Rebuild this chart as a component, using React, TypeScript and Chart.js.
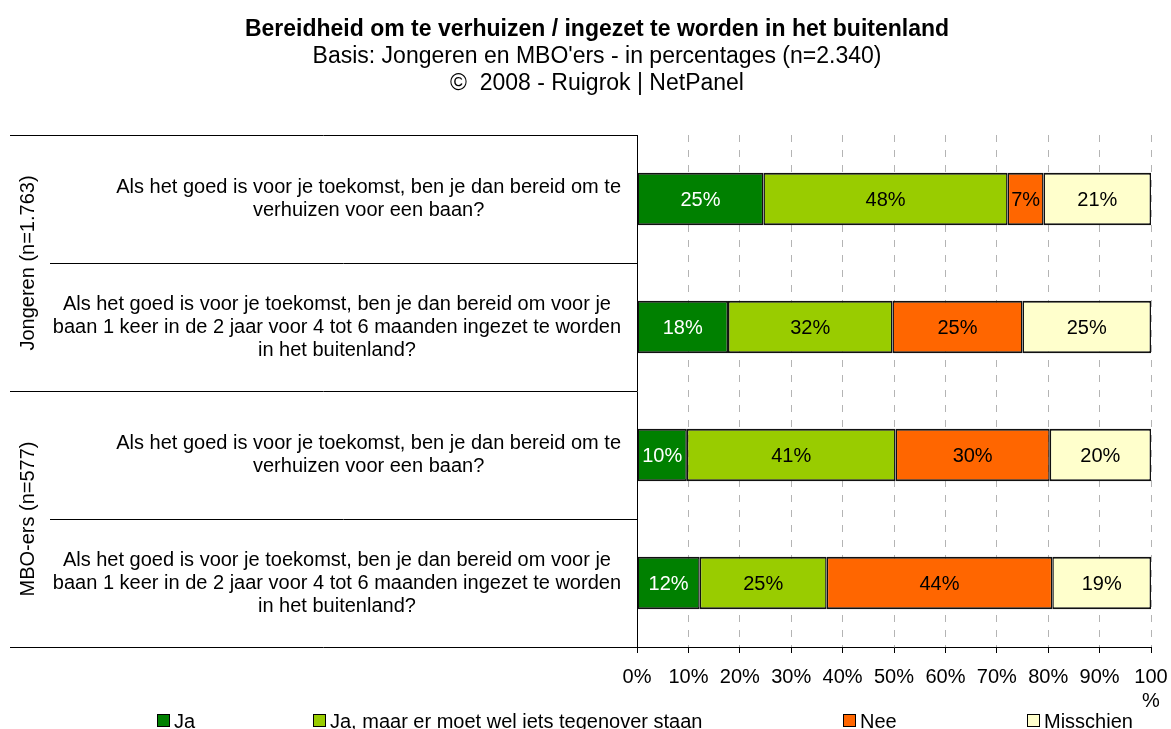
import React, { useEffect, useRef } from "react";
import { Chart, registerables } from "chart.js";

Chart.register(...registerables);

const FONT = "'Liberation Sans', Arial, Helvetica, sans-serif";

const titleText = "Bereidheid om te verhuizen / ingezet te worden in het buitenland";
const subtitleLines = [
  "Basis: Jongeren en MBO'ers - in percentages (n=2.340)",
  "©  2008 - Ruigrok | NetPanel",
];

const categories: string[][] = [
  ["Als het goed is voor je toekomst, ben je dan bereid om te", "verhuizen voor een baan?"],
  [
    "Als het goed is voor je toekomst, ben je dan bereid om voor je",
    "baan 1 keer in de 2 jaar voor 4 tot 6 maanden ingezet te worden",
    "in het buitenland?",
  ],
  ["Als het goed is voor je toekomst, ben je dan bereid om te", "verhuizen voor een baan?"],
  [
    "Als het goed is voor je toekomst, ben je dan bereid om voor je",
    "baan 1 keer in de 2 jaar voor 4 tot 6 maanden ingezet te worden",
    "in het buitenland?",
  ],
];
const groups = ["Jongeren (n=1.763)", "MBO-ers (n=577)"];
const groupOf = [0, 0, 1, 1];

const seriesNames = ["Ja", "Ja, maar er moet wel iets tegenover staan", "Nee", "Misschien"];
const ja = [24.6, 17.7, 9.7, 12.2];
const jaMaar = [47.5, 32.0, 40.6, 24.7];
const nee = [7.0, 25.3, 30.0, 43.9];
const misschien = [20.9, 25.0, 19.7, 19.2];

const xTicks = [0, 10, 20, 30, 40, 50, 60, 70, 80, 90, 100];

const colors = ["#008000", "#99CC00", "#FF6600", "#FFFFCC"];
const labelColors = ["#FFFFFF", "#000000", "#000000", "#000000"];
const legendX = [157, 313, 843, 1027];

const overlay = {
  id: "overlay",
  afterDatasetsDraw(chart: any) {
    const { ctx } = chart;
    ctx.save();
    ctx.font = `20px ${FONT}`;
    ctx.textAlign = "center";
    ctx.textBaseline = "middle";
    chart.data.datasets.forEach((ds: any, di: number) => {
      const meta = chart.getDatasetMeta(di);
      meta.data.forEach((el: any, i: number) => {
        const v = ds.data[i];
        ctx.fillStyle = labelColors[di];
        ctx.fillText(Math.round(v) + "%", (el.x + el.base) / 2, el.y + 1);
      });
    });
    ctx.restore();
  },
  afterDraw(chart: any) {
    const { ctx, chartArea, scales } = chart;
    const y = scales.y;
    ctx.save();
    ctx.fillStyle = "#000";
    ctx.textAlign = "center";
    ctx.textBaseline = "middle";
    // titles
    ctx.font = `bold 23px ${FONT}`;
    ctx.fillText(titleText, 597, 30);
    ctx.font = `23px ${FONT}`;
    ctx.fillText(subtitleLines[0], 597, 57);
    ctx.fillText(subtitleLines[1], 597, 84);

    // category labels
    ctx.font = `20px ${FONT}`;
    categories.forEach((lines, i) => {
      const cy = y.getPixelForValue(i);
      const maxW = Math.max(...lines.map((l) => ctx.measureText(l).width));
      const cx = chartArea.left - 16 - maxW / 2;
      lines.forEach((l, j) => {
        ctx.fillText(l, cx, cy + (j - (lines.length - 1) / 2) * 23);
      });
    });

    // separator lines
    ctx.strokeStyle = "#000";
    ctx.lineWidth = 1;
    const hline = (x1: number, yy: number) => {
      const py = Math.round(yy) + 0.5;
      ctx.beginPath();
      ctx.moveTo(x1, py);
      ctx.lineTo(chartArea.left, py);
      ctx.stroke();
    };
    hline(10, chartArea.top);
    hline(10, chartArea.bottom);
    for (let i = 0; i < categories.length - 1; i++) {
      const b = (y.getPixelForValue(i) + y.getPixelForValue(i + 1)) / 2;
      hline(groupOf[i] === groupOf[i + 1] ? 50 : 10, b);
    }

    // group labels
    groups.forEach((g, gi) => {
      const idx = groupOf.map((v, i) => (v === gi ? i : -1)).filter((i) => i >= 0);
      const cy = idx.reduce((s, i) => s + y.getPixelForValue(i), 0) / idx.length;
      ctx.save();
      ctx.translate(28, cy);
      ctx.rotate(-Math.PI / 2);
      ctx.fillText(g, 0, 0);
      ctx.restore();
    });

    // legend
    ctx.textAlign = "left";
    seriesNames.forEach((name, i) => {
      const x = legendX[i];
      ctx.fillStyle = colors[i];
      ctx.fillRect(x, 714, 13, 13);
      ctx.strokeStyle = "#000";
      ctx.strokeRect(x + 0.5, 714.5, 12, 12);
      ctx.fillStyle = "#000";
      ctx.fillText(name, x + 17, 722);
    });
    ctx.restore();
  },
};

export default function App() {
  const ref = useRef<HTMLCanvasElement | null>(null);
  useEffect(() => {
    if (!ref.current) return;
    Chart.defaults.font.family = FONT;
    const values = [ja, jaMaar, nee, misschien];
    const chart = new Chart(ref.current, {
      type: "bar",
      data: {
        labels: categories.map((c) => c.join(" ")),
        datasets: seriesNames.map((name, i) => ({
          label: name,
          data: values[i],
          backgroundColor: colors[i],
          borderColor: "#111111",
          borderWidth: { top: 2, bottom: 2, left: 1.5, right: 1.5 },
          borderSkipped: false,
          barPercentage: 0.41,
          categoryPercentage: 1,
        })),
      },
      options: {
        indexAxis: "y",
        animation: false,
        responsive: false,
        devicePixelRatio: 1,
        layout: { padding: { left: 637, right: 20, top: 135, bottom: 0 } },
        plugins: {
          legend: { display: false },
          title: { display: false },
          tooltip: { enabled: false },
        },
        scales: {
          x: {
            type: "linear",
            stacked: true,
            min: 0,
            max: 100,
            afterFit: (s: any) => {
              s.height = 82;
              s.paddingLeft = 0;
              s.paddingRight = 0;
            },
            afterBuildTicks: (s: any) => {
              s.ticks = xTicks.map((v) => ({ value: v }));
            },
            ticks: {
              color: "#000",
              font: { size: 20, family: FONT },
              padding: 12,
              maxRotation: 0,
              autoSkip: false,
              callback: (v: any) => (Number(v) === 100 ? ["100", "%"] : v + "%"),
            },
            grid: {
              color: (c: any) => (c.index === 0 ? "rgba(0,0,0,0)" : "#b4b4b4"),
              lineWidth: 1,
              tickColor: "#000",
              tickLength: 6,
              tickBorderDash: [],
            },
            border: { display: true, color: "#000", width: 1, dash: [7, 8] },
          },
          y: {
            type: "category",
            stacked: true,
            afterFit: (s: any) => {
              s.width = 0;
            },
            ticks: { display: false },
            grid: { display: false },
            border: { display: true, color: "#000", width: 1 },
          },
        },
      },
      plugins: [overlay],
    });
    return () => chart.destroy();
  }, []);
  return (
    <div style={{ position: "fixed", left: 0, top: 0, width: 1171, height: 729, background: "#fff" }}>
      <canvas ref={ref} width={1171} height={729} style={{ display: "block", width: 1171, height: 729 }} />
    </div>
  );
}
